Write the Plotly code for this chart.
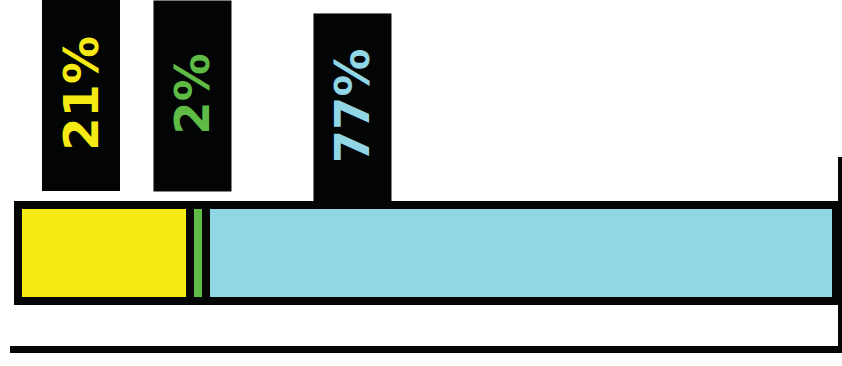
import plotly.graph_objects as go

# ---- data ----
categories = ["Share"]
segments = ["Segment A", "Segment B", "Segment C"]
values = [21, 2, 77]
labels = ["21%", "2%", "77%"]

# ---- styles / layout constants ----
colors = ["#F5EA14", "#5DBB46", "#91D6E5"]
label_x = [7.70, 21.33, 40.95]        # label box centres (x data units)
label_y = [1.3254, 1.3254, 1.2593]    # label box centres (paper units)
label_len = [190, 190, 188]           # box length along the text
box_color = "#030404"

fig = go.Figure()
for name, v, c in zip(segments, values, colors):
    fig.add_trace(go.Bar(
        y=categories, x=[v], name=name, orientation="h",
        marker=dict(color=c, line=dict(color="#050505", width=8)),
        width=0.5, hoverinfo="skip",
    ))

pad = "<span style='font-size:12px'>&nbsp;</span>"
for lx, ly, ln, t, c in zip(label_x, label_y, label_len, labels, colors):
    fig.add_annotation(
        x=lx, y=ly, xref="x", yref="paper",
        text=pad + t, showarrow=False, textangle=-90,
        xanchor="center", yanchor="middle",
        width=ln, height=77, bgcolor=box_color, borderpad=0,
        font=dict(family="DejaVu Sans", size=48, color=c, weight="bold"),
    )

fig.update_layout(
    width=842, height=366, barmode="stack", showlegend=False,
    margin=dict(l=10, r=4, t=157, b=20, pad=0),
    paper_bgcolor="white", plot_bgcolor="white",
    xaxis=dict(range=[-0.978, 100.244], showgrid=False, zeroline=False,
               showticklabels=False, ticks="", showline=True,
               linewidth=7, linecolor="#050505", fixedrange=True),
    yaxis=dict(range=[-0.484, 0.5], side="right", showgrid=False,
               zeroline=False, showticklabels=False, ticks="",
               showline=True, linewidth=4, linecolor="#050505",
               fixedrange=True),
)

fig.write_html("out.html", config={"displayModeBar": False})
